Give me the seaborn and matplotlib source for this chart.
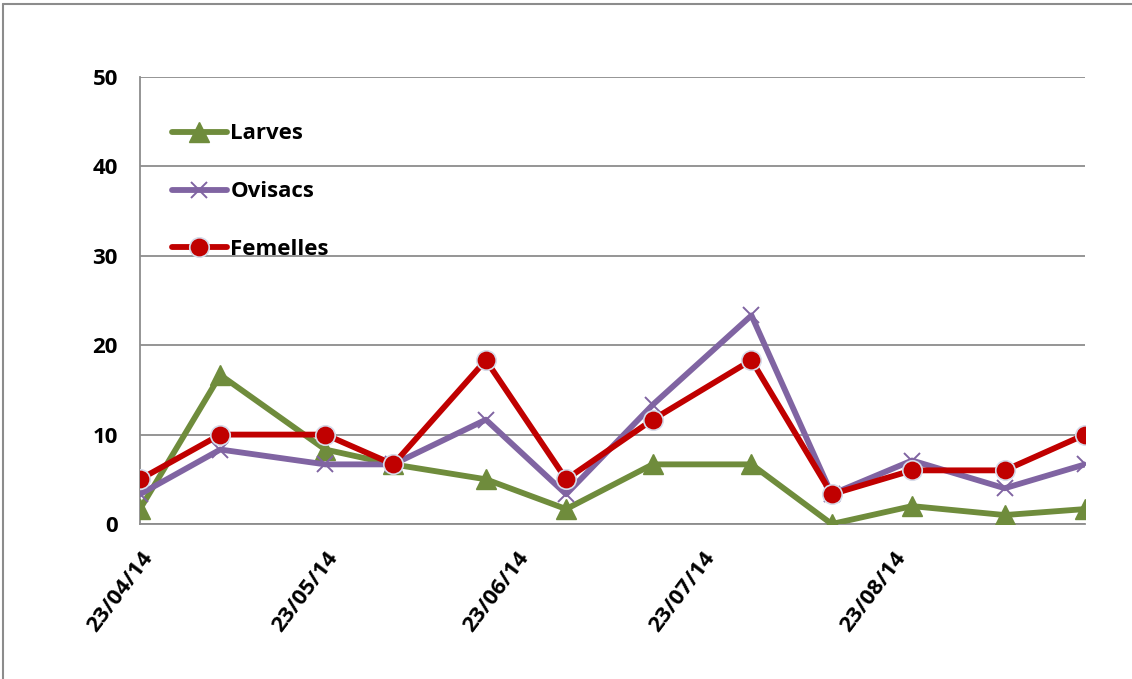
import matplotlib
matplotlib.use("Agg")
import matplotlib.pyplot as plt
import pandas as pd
import seaborn as sns

# Sampling dates (2014 season)
dates = ["2014-04-23", "2014-05-06", "2014-05-23", "2014-06-03", "2014-06-18",
         "2014-07-01", "2014-07-15", "2014-07-31", "2014-08-13", "2014-08-26",
         "2014-09-10", "2014-09-23"]

larves = [1.67, 16.67, 8.33, 6.67, 5.0, 1.67, 6.67, 6.67, 0.0, 2.0, 1.0, 1.67]
ovisacs = [3.33, 8.33, 6.67, 6.67, 11.67, 3.33, 13.33, 23.33, 3.33, 7.1, 4.0, 6.67]
femelles = [5.0, 10.0, 10.0, 6.67, 18.33, 5.0, 11.67, 18.33, 3.33, 6.0, 6.0, 10.0]

series_names = ["Larves", "Ovisacs", "Femelles"]
tick_dates = ["2014-04-23", "2014-05-23", "2014-06-23", "2014-07-23",
              "2014-08-23", "2014-09-23"]
tick_labels = ["23/04/14", "23/05/14", "23/06/14", "23/07/14", "23/08/14", ""]
y_ticks = [0, 10, 20, 30, 40, 50]

df = pd.DataFrame({
    "date": pd.to_datetime(dates * 3),
    "valeur": larves + ovisacs + femelles,
    "serie": [s for s in series_names for _ in dates],
})

sns.set_theme(style="white")
plt.rcParams["font.family"] = ["Open Sans", "DejaVu Sans"]
plt.rcParams["font.weight"] = "bold"
plt.rcParams["text.color"] = "black"

FS = 16
fig = plt.figure(figsize=(11.32, 6.79), dpi=100)
ax = fig.add_axes([140 / 1132, 1 - 524 / 679, 945 / 1132, 447 / 679])

styles = {
    "Larves":   dict(color="#6F8C3C", marker="^", ms=14, mec="#6F8C3C", mew=1.0),
    "Ovisacs":  dict(color="#8064A2", marker="x", ms=12, mec="#8064A2", mew=1.4),
    "Femelles": dict(color="#C00000", marker="o", ms=14, mec="#D6DCEA", mew=1.2),
}

for name in series_names:
    st = styles[name]
    sub = df[df["serie"] == name]
    sns.lineplot(data=sub, x="date", y="valeur", ax=ax, label=name,
                 color=st["color"], linewidth=4.2, marker=st["marker"],
                 markersize=st["ms"], markeredgecolor=st["mec"],
                 markeredgewidth=st["mew"], markerfacecolor=st["color"],
                 zorder=3)

ax.set_xlim(pd.Timestamp(tick_dates[0]), pd.Timestamp(tick_dates[-1]))
ax.set_ylim(0, 50)
ax.set_yticks(y_ticks)
ax.set_xticks(pd.to_datetime(tick_dates))
ax.set_xticklabels(tick_labels, rotation=53, ha="right", rotation_mode="anchor",
                   fontsize=FS, fontweight="bold")
ax.set_yticklabels([str(v) for v in y_ticks], fontsize=FS, fontweight="bold")
ax.set_xlabel("")
ax.set_ylabel("")

grid_col = "#8C8C8C"
ax.yaxis.grid(True, color=grid_col, linewidth=1.3)
ax.xaxis.grid(False)
ax.set_axisbelow(True)
for side in ["top", "right"]:
    ax.spines[side].set_visible(False)
for side in ["left", "bottom"]:
    ax.spines[side].set_color(grid_col)
    ax.spines[side].set_linewidth(1.3)
ax.tick_params(axis="both", which="major", direction="out", length=7,
               width=1.3, color=grid_col, labelcolor="black")
ax.tick_params(axis="y", pad=9)
ax.tick_params(axis="x", pad=10)

leg = ax.legend(loc="upper left", bbox_to_anchor=(0.024, 0.916), frameon=False,
                fontsize=FS, handlelength=2.5, handletextpad=0.15,
                labelspacing=1.66, borderaxespad=0)
for t in leg.get_texts():
    t.set_fontweight("bold")
    t.set_color("black")

# Outer frame of the chart area
fig.add_artist(plt.Line2D([3 / 1132, 1.0], [1 - 4 / 679, 1 - 4 / 679],
                          transform=fig.transFigure, color="#8C8C8C", lw=1.5))
fig.add_artist(plt.Line2D([3 / 1132, 3 / 1132], [0.0, 1 - 4 / 679],
                          transform=fig.transFigure, color="#8C8C8C", lw=1.5))

fig.savefig("out.png", dpi=100)
